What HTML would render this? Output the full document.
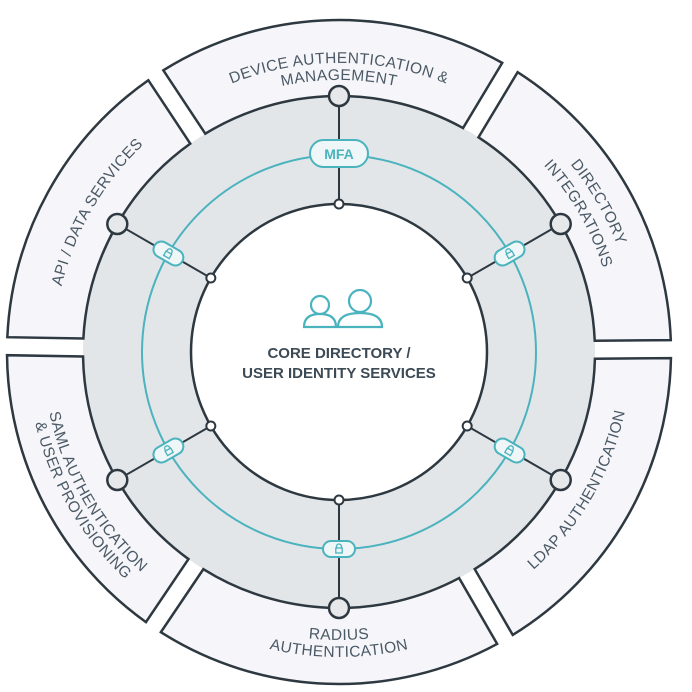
<!DOCTYPE html>
<html><head><meta charset="utf-8"><style>
html,body{margin:0;padding:0;background:#fff;width:692px;height:692px;overflow:hidden}
svg{display:block}
.lbl{font-family:"Liberation Sans",sans-serif;font-size:15.5px;fill:#4a5965;letter-spacing:0.4px}
</style></head><body>
<svg id="s" width="692" height="692" viewBox="0 0 692 692" xmlns="http://www.w3.org/2000/svg">
<defs>
<path id="pTop1" d="M194.5 101.7 A289 289 0 0 1 483.5 101.7"/>
<path id="pTop2" d="M203 116.4 A272 272 0 0 1 475 116.4"/>
<path id="pDir1" d="M488 93.9 A298 298 0 0 1 637 352"/>
<path id="pDir2" d="M477.5 112.1 A277 277 0 0 1 616 352"/>
<path id="pApi" d="M54 352 A285 285 0 0 1 196.5 105.2"/>
<path id="pLdap" d="M485 604.9 A292 292 0 0 0 631 352"/>
<path id="pRad1" d="M195 601.4 A288 288 0 0 0 483 601.4"/>
<path id="pRad2" d="M186.5 616.1 A305 305 0 0 0 491.5 616.1"/>
<path id="pSaml1" d="M43 352 A296 296 0 0 0 191 608.3"/>
<path id="pSaml2" d="M27 352 A312 312 0 0 0 183 622.2"/>
</defs>
<circle cx="339" cy="352" r="256" fill="#e3e6e9"/>
<g id="segs"></g>
<circle cx="339" cy="352" r="197" fill="none" stroke="#4ab3bd" stroke-width="2"/>
<g id="spokes"></g>
<circle cx="339" cy="352" r="148" fill="#fff" stroke="#2d3840" stroke-width="2.5"/>
<g id="dots"></g>
<text class="lbl"><textPath href="#pTop1" startOffset="50%" text-anchor="middle">DEVICE AUTHENTICATION &amp;</textPath></text>
<text class="lbl"><textPath href="#pTop2" startOffset="50%" text-anchor="middle">MANAGEMENT</textPath></text>
<text class="lbl"><textPath href="#pDir1" startOffset="50%" text-anchor="middle">DIRECTORY</textPath></text>
<text class="lbl"><textPath href="#pDir2" startOffset="50%" text-anchor="middle">INTEGRATIONS</textPath></text>
<text class="lbl"><textPath href="#pApi" startOffset="50%" text-anchor="middle">API / DATA SERVICES</textPath></text>
<text class="lbl"><textPath href="#pLdap" startOffset="50%" text-anchor="middle">LDAP AUTHENTICATION</textPath></text>
<text class="lbl"><textPath href="#pRad1" startOffset="50%" text-anchor="middle">RADIUS</textPath></text>
<text class="lbl"><textPath href="#pRad2" startOffset="50%" text-anchor="middle">AUTHENTICATION</textPath></text>
<text class="lbl"><textPath href="#pSaml1" startOffset="50%" text-anchor="middle">SAML AUTHENTICATION</textPath></text>
<text class="lbl"><textPath href="#pSaml2" startOffset="50%" text-anchor="middle">&amp; USER PROVISIONING</textPath></text>
<!-- MFA -->
<rect x="310" y="140" width="58" height="27" rx="13.5" fill="#eef6f7" stroke="#4ab3bd" stroke-width="2"/>
<text x="339" y="159" text-anchor="middle" font-family="Liberation Sans,sans-serif" font-size="14" font-weight="bold" fill="#4ab3bd">MFA</text>
<!-- people icon -->
<g fill="none" stroke="#4ab3bd" stroke-width="2.2">
<circle cx="320" cy="305" r="9"/>
<path d="M304 327 Q304 314 320 314 Q336 314 336 327 Z"/>
<path d="M338 327 Q338 313 360 313 Q382 313 382 327 Z" fill="#fff"/>
<circle cx="360" cy="301" r="11" fill="#fff"/>
</g>
<text x="339" y="358" text-anchor="middle" font-family="Liberation Sans,sans-serif" font-size="15" font-weight="bold" fill="#3c4a55">CORE DIRECTORY /</text>
<text x="339" y="378" text-anchor="middle" font-family="Liberation Sans,sans-serif" font-size="15" font-weight="bold" fill="#3c4a55">USER IDENTITY SERVICES</text>
</svg>
<script>
(function(){
var NS="http://www.w3.org/2000/svg",cx=339,cy=352;
function P(r,a){a=a*Math.PI/180;return [cx+r*Math.cos(a),cy+r*Math.sin(a)];}
function el(t,at,par){var e=document.createElementNS(NS,t);for(var k in at)e.setAttribute(k,at[k]);(typeof par==="string"?document.getElementById(par):par).appendChild(e);return e;}
var ri=256,ro=332,d=9;
// boundaries (deg)
var B=[-123.5,-59,-0.5,60,124,181];
for(var i=0;i<6;i++){
  var a0=B[i], a1=(i<5?B[i+1]:B[0]+360);
  var so=Math.asin(d/ro)*180/Math.PI, si=Math.asin(d/ri)*180/Math.PI;
  var o1=P(ro,a0+so),o2=P(ro,a1-so),i2=P(ri,a1-si),i1=P(ri,a0+si);
  el("path",{d:"M"+o1+" A"+ro+" "+ro+" 0 0 1 "+o2+" L"+i2+" A"+ri+" "+ri+" 0 0 0 "+i1+" Z",fill:"#f6f6fa",stroke:"#2d3840","stroke-width":"2.5","stroke-linejoin":"miter"},"segs");
}
var centers=[-90,-30,30,90,150,210],rot={"-90":0,"-30":-30,"30":30,"90":0,"150":-30,"210":30};
centers.forEach(function(c){
  var a=P(148,c),b=P(256,c);
  el("line",{x1:a[0],y1:a[1],x2:b[0],y2:b[1],stroke:"#2d3840","stroke-width":"2"},"spokes");
  el("circle",{cx:b[0],cy:b[1],r:"10",fill:"#e6e8ea",stroke:"#2d3840","stroke-width":"2.5"},"dots");
  el("circle",{cx:a[0],cy:a[1],r:"4.5",fill:"#fff",stroke:"#2d3840","stroke-width":"2"},"dots");
  if(c!==-90){
    var m=P(197,c);
    var g=el("g",{transform:"translate("+m[0]+","+m[1]+") rotate("+rot[String(c)]+")"},"dots");
    el("rect",{x:-16,y:-8,width:32,height:16,rx:8,fill:"#eef6f7",stroke:"#4ab3bd","stroke-width":"2"},g);
    el("path",{d:"M-2.5 -1 V-2.5 A2.5 2.5 0 0 1 2.5 -2.5 V-1 M-3.2 -1 H3.2 V4 H-3.2 Z",fill:"none",stroke:"#4ab3bd","stroke-width":"1.3"},g);
  }
});
})();
</script>
</body></html>
